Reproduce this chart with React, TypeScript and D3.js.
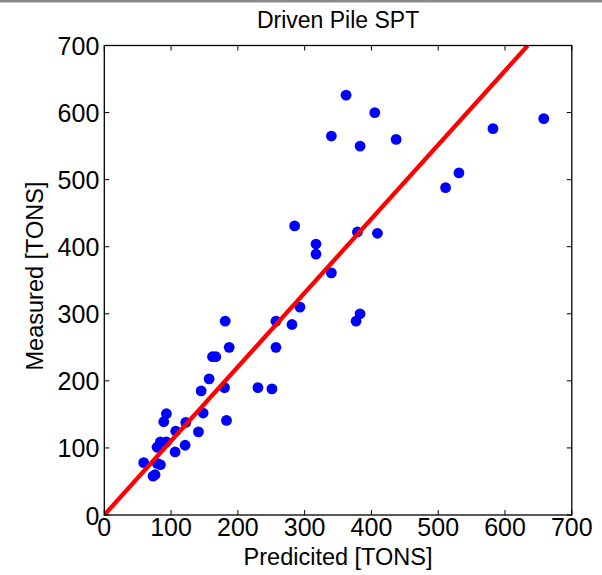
import React from "react";
import * as d3 from "d3";

const predicted = [59, 73, 76, 79, 84, 79, 84, 93, 89, 93, 106, 107, 121, 122, 141, 148, 145, 157, 162, 167, 180, 181, 183, 187, 230, 251, 257, 257, 281, 293, 285, 317, 317, 340, 340, 362, 377, 383, 379, 383, 405, 409, 437, 511, 531, 582, 658];
const measured = [78, 58, 60, 77, 75, 101, 109, 109, 139, 151, 94, 125, 104, 138, 124, 152, 185, 203, 236, 236, 190, 289, 141, 250, 190, 188, 250, 289, 284, 310, 431, 404, 389, 361, 565, 626, 289, 300, 422, 550, 600, 420, 560, 488, 510, 576, 591];
const tickValues = [0, 100, 200, 300, 400, 500, 600, 700];
const fitSlope = [1.104];
const title = "Driven Pile SPT";
const xLabel = "Predicited [TONS]";
const yLabel = "Measured [TONS]";

export default function App() {
  const W = 602, H = 575;
  const left = 104.3, right = 571.8, top = 45.5, bottom = 515;
  const x = d3.scaleLinear().domain([0, 700]).range([left, right]);
  const y = d3.scaleLinear().domain([0, 700]).range([bottom, top]);
  const font = "Arial, 'Liberation Sans', sans-serif";
  const slope = fitSlope[0];
  const lineGen = d3.line<number>().x((d) => x(d)).y((d) => y(d * slope));
  const xEnd = 700 / slope;
  const tl = 5;
  return (
    <svg width={W} height={H} style={{ position: "absolute", left: 0, top: 0, background: "#fff" }}>
      <rect x={0} y={0} width={W} height={H} fill="#fff" />
      <rect x={0} y={0} width={W} height={2.5} fill="#8a8a8a" />
      <defs>
        <clipPath id="plotclip">
          <rect x={left} y={top} width={right - left} height={bottom - top} />
        </clipPath>
      </defs>
      <text x={(left + right) / 2} y={27.5} textAnchor="middle" fontFamily={font} fontSize={23} fill="#000">{title}</text>
      {tickValues.map((t) => (
        <g key={"t" + t}>
          <line x1={x(t)} x2={x(t)} y1={bottom} y2={bottom - tl} stroke="#000" strokeWidth={1} />
          <line x1={x(t)} x2={x(t)} y1={top} y2={top + tl} stroke="#000" strokeWidth={1} />
          <line x1={left} x2={left + tl} y1={y(t)} y2={y(t)} stroke="#000" strokeWidth={1} />
          <line x1={right} x2={right - tl} y1={y(t)} y2={y(t)} stroke="#000" strokeWidth={1} />
          <text x={x(t)} y={bottom + 21} textAnchor="middle" fontFamily={font} fontSize={25} fill="#000">{t}</text>
          <text x={left - 5} y={y(t) + 9.5} textAnchor="end" fontFamily={font} fontSize={25} fill="#000">{t}</text>
        </g>
      ))}
      <g clipPath="url(#plotclip)">
        {predicted.map((p, i) => (
          <circle key={i} cx={x(p)} cy={y(measured[i])} r={5.4} fill="#0000ff" />
        ))}
        <path d={lineGen([0, xEnd]) || ""} stroke="#ff0000" strokeWidth={4.3} fill="none" />
      </g>
      <rect x={left} y={top} width={right - left} height={bottom - top} fill="none" stroke="#000" strokeWidth={1.3} />
      <text x={(left + right) / 2} y={565} textAnchor="middle" fontFamily={font} fontSize={23.5} fill="#000">{xLabel}</text>
      <text transform={`translate(42.5, 276) rotate(-90)`} textAnchor="middle" fontFamily={font} fontSize={23.5} fill="#000">{yLabel}</text>
    </svg>
  );
}
